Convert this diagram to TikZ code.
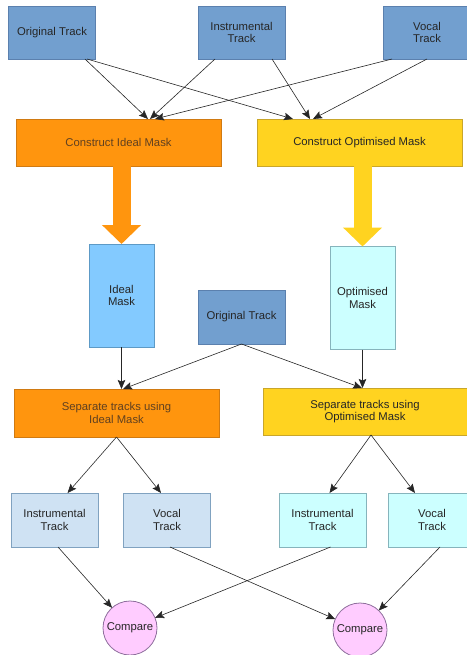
\documentclass[tikz,border=0pt]{standalone}
\usepackage{fontspec}
\setmainfont{Liberation Sans}
\usetikzlibrary{arrows,arrows.meta,positioning}
\definecolor{trackblue}{HTML}{729FCF}
\definecolor{trackline}{HTML}{5B80AE}
\definecolor{idealorange}{HTML}{FF950E}
\definecolor{orangeline}{HTML}{D07A12}
\definecolor{optyellow}{HTML}{FFD320}
\definecolor{yellowline}{HTML}{C9A62A}
\definecolor{idealblue}{HTML}{83CAFF}
\definecolor{idealline}{HTML}{5D9AC6}
\definecolor{optcyan}{HTML}{CCFFFF}
\definecolor{cyanline}{HTML}{86B4BC}
\definecolor{paleblue}{HTML}{CFE2F3}
\definecolor{paleline}{HTML}{80A2C0}
\definecolor{comparepink}{HTML}{FFCCFF}
\definecolor{pinkline}{HTML}{8E6E9C}
\tikzset{box/.style={rectangle,draw,align=center,inner sep=2pt,outer sep=0pt,line width=0.8pt,
           text=black!85,font=\fontsize{11.3}{12.7}\selectfont},
         track/.style={box,fill=trackblue,draw=trackline,minimum width=87pt,minimum height=53pt},
         ideal/.style={box,fill=idealorange,draw=orangeline,text=brown!50!black,minimum width=205pt,minimum height=47pt},
         optim/.style={box,fill=optyellow,draw=yellowline,minimum width=205pt,minimum height=47pt},
         mask/.style={box,minimum width=65pt,minimum height=103pt},
         result/.style={box,minimum width=87pt,minimum height=54pt},
         compare/.style={box,circle,fill=comparepink,draw=pinkline,inner sep=0pt,minimum size=54pt},
         flow/.style={-{Stealth[length=9pt,width=7.5pt,inset=1.5pt]},line width=0.6pt,draw=black!85},
         bigflow/.style={-{Triangle[length=19pt,width=38pt]},line width=18pt}
}
\begin{document}
\begin{tikzpicture}[x=1pt,y=-1pt]
  \useasboundingbox (0,0) rectangle (466,655);
  % inputs
  \node[track] (orig) at (52,32.5) {Original Track};
  \node[track] (inst) at (241.5,32.5) {Instrumental\\Track};
  \node[track] (voc)  at (427,32.5) {Vocal\\Track};
  % masks
  \node[ideal] (cim) at (118.5,142.5) {Construct Ideal Mask};
  \node[optim] (com) at (359.5,142.5) {Construct Optimised Mask};
  \node[mask,fill=idealblue,draw=idealline] (im) at (121.5,295.5) {Ideal\\Mask};
  \node[mask,fill=optcyan,draw=cyanline]    (om) at (362.5,298) {Optimised\\Mask};
  \node[track,minimum height=54pt] (orig2) at (241.5,317) {Original Track};
  % separation
  \node[ideal,minimum height=48pt] (sim) at (116.5,413) {Separate tracks using\\Ideal Mask};
  \node[optim,minimum width=204pt] (som) at (365,411.5) {Separate tracks using\\Optimised Mask};
  \node[result,fill=paleblue,draw=paleline] (il) at (54.5,520) {Instrumental\\Track};
  \node[result,fill=paleblue,draw=paleline] (vl) at (167,520) {Vocal\\Track};
  \node[result,fill=optcyan,draw=cyanline]  (ir) at (322.5,520) {Instrumental\\Track};
  \node[result,fill=optcyan,draw=cyanline]  (vr) at (432,520) {Vocal\\Track};
  \node[compare] (cl) at (130,628) {Compare};
  \node[compare] (cr) at (360,630) {Compare};

  \draw[flow] ([xshift=33pt]orig.south) -- ([xshift=29.5pt]cim.north);
  \draw[flow] ([xshift=35pt]orig.south) -- ([xshift=-66.5pt]com.north);
  \draw[flow] ([xshift=-26.5pt]inst.south) -- ([xshift=31.5pt]cim.north);
  \draw[flow] ([xshift=30.5pt]inst.south) -- ([xshift=-49.5pt]com.north);
  \draw[flow] ([xshift=-35pt]voc.south) -- ([xshift=36.5pt]cim.north);
  \draw[flow] (voc.south) -- ([xshift=-46.5pt]com.north);

  \draw[bigflow,idealorange] ([xshift=3pt]cim.south) -- (im.north);
  \draw[bigflow,optyellow] ([xshift=3pt]com.south) -- (om.north);

  \draw[flow] (im.south) -- ([xshift=5pt]sim.north);
  \draw[flow] (orig2.south) -- ([xshift=6.5pt]sim.north);
  \draw[flow] (orig2.south) -- ([xshift=-3pt]som.north);
  \draw[flow] (om.south) -- ([xshift=-2.5pt]som.north);

  \draw[flow] (sim.south) -- ([xshift=13pt]il.north);
  \draw[flow] (sim.south) -- ([xshift=-6pt]vl.north);
  \draw[flow] ([xshift=6pt]som.south) -- ([xshift=7pt]ir.north);
  \draw[flow] ([xshift=6pt]som.south) -- ([xshift=-17pt]vr.north);

  \draw[flow] ([xshift=3.5pt]il.south) -- (cl);
  \draw[flow] ([xshift=3pt]vl.south) -- (cr);
  \draw[flow] ([xshift=8pt]ir.south) -- (cl);
  \draw[flow] ([xshift=8pt]vr.south) -- (cr);
\end{tikzpicture}
\end{document}
